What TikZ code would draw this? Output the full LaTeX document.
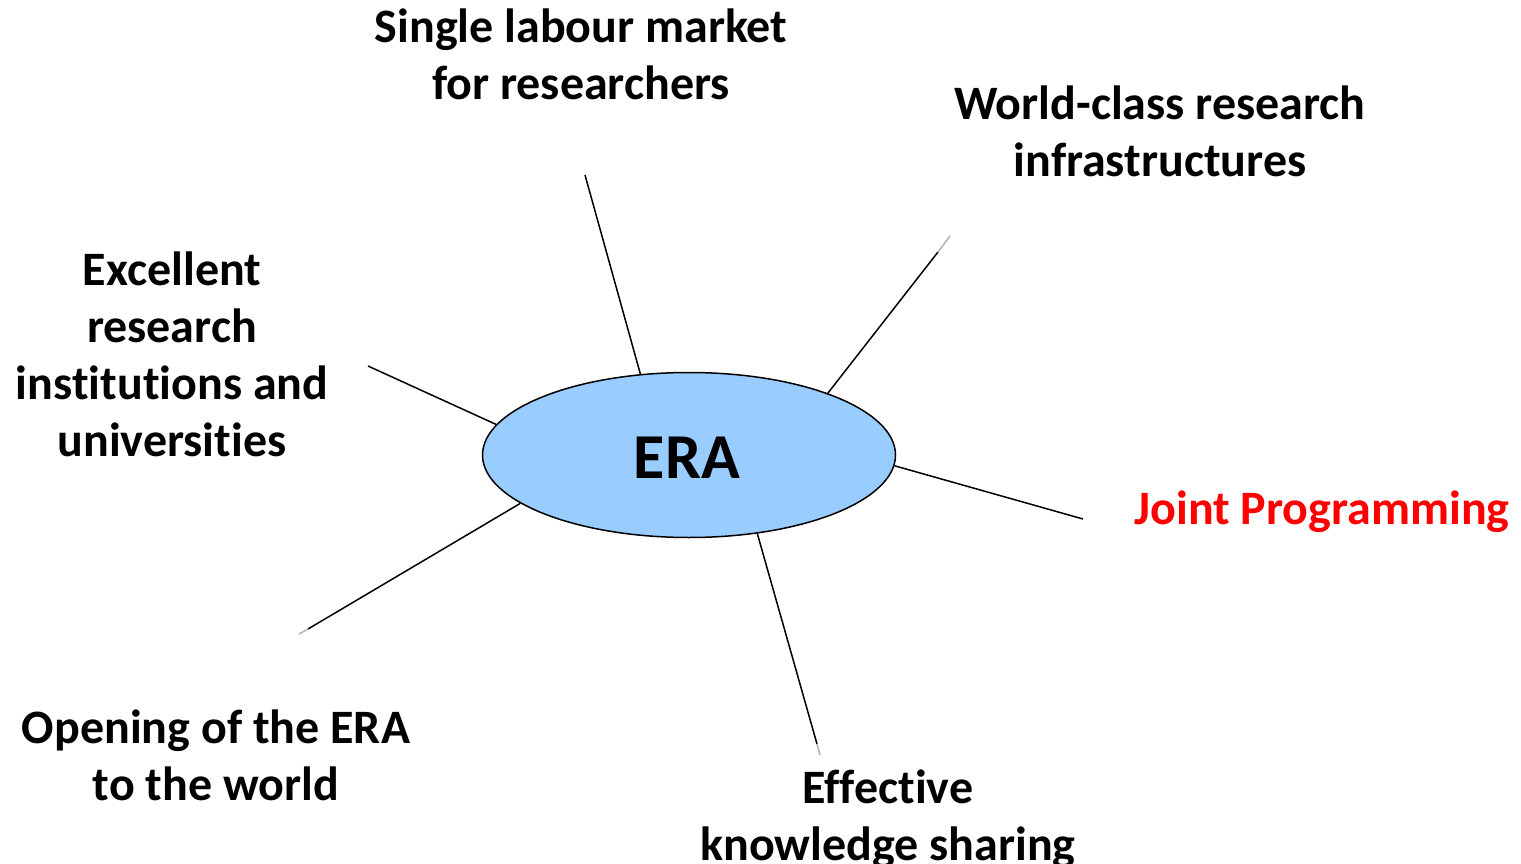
\documentclass[tikz,border=0pt]{standalone}
\usepackage{fontspec}
\setmainfont{Carlito}[Ligatures=NoCommon]
\usetikzlibrary{shapes.geometric,calc}
\begin{document}
\begin{tikzpicture}[x=1pt,y=-1pt,
  lbl/.style={font=\bfseries\fontsize{48}{57}\selectfont, align=center, inner sep=0pt},
  spoke/.style={line width=1.5pt, black},
  tip/.style={line width=1.5pt, gray!60}]
\useasboundingbox (0,0) rectangle (1521,864);
\node[ellipse, draw, line width=1.5pt, fill={rgb,255:red,153;green,204;blue,255},
      minimum width=413pt, minimum height=165pt, inner sep=0pt] (era) at (689,455) {};
\node[font=\bfseries\fontsize{64}{70}\selectfont, inner sep=0pt] (eratxt) at (687,458) {ERA};

\node[lbl] (l1) at (581,54) {Single labour market\\for researchers};
\node[lbl] (l2) at (1160,131) {World-class research\\infrastructures};
\node[lbl] (l3) at (172,354) {Excellent\\research\\institutions and\\universities};
\node[lbl, text={rgb,255:red,255;green,0;blue,0}] (l4) at (1322,512) {Joint Programming};
\node[lbl] (l5) at (216,755) {Opening of the ERA\\to the world};
\node[lbl] (l6) at (888,819) {Effective\\knowledge sharing};

\coordinate (e1) at (585,175);
\coordinate (t2) at (938,252); \coordinate (e2) at (950,236);
\coordinate (e3) at (1083,519);
\coordinate (t4) at (817,744); \coordinate (e4) at (820,755);
\coordinate (t5) at (308,629); \coordinate (e5) at (299,634);
\coordinate (e6) at (368,366);

\draw[spoke] (era.121.2) -- (e1);
\draw[spoke] (era.24.5) -- (t2);
\draw[tip] (t2) -- (e2);
\draw[spoke] (era.-3.6) -- (e3);
\draw[spoke] (era.-49.4) -- (t4);
\draw[tip] (t4) -- (e4);
\draw[spoke] (era.196.9) -- (t5);
\draw[tip] (t5) -- (e5);
\draw[spoke] (era.171) -- (e6);
\end{tikzpicture}
\end{document}
